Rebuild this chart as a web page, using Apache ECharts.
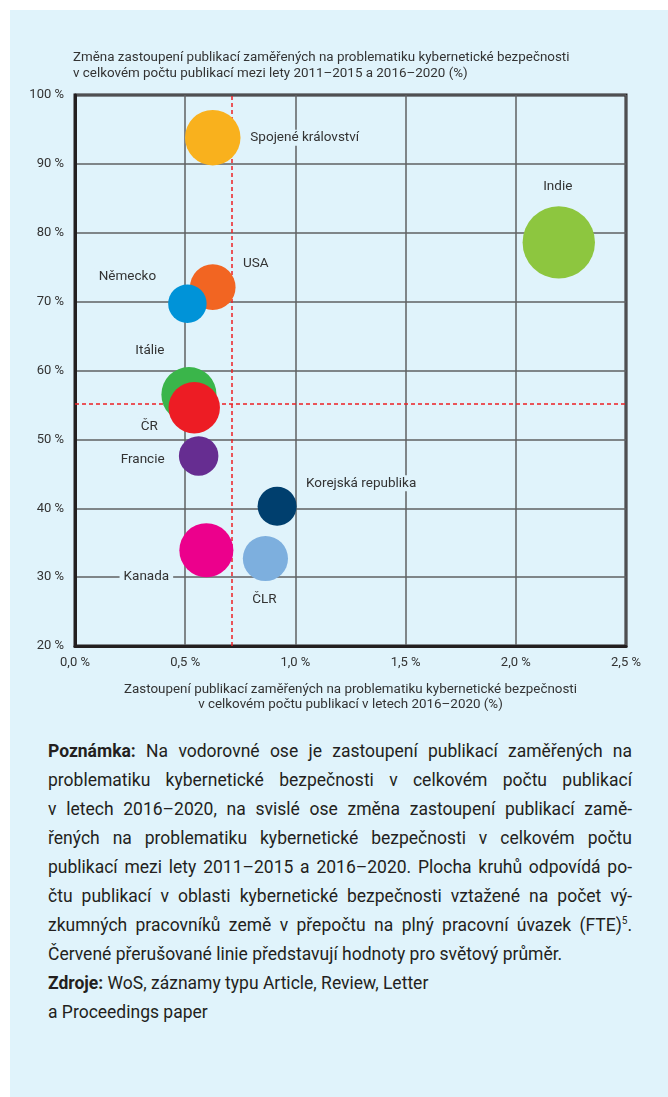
<!DOCTYPE html>
<html>
<head>
<meta charset="utf-8">
<script src="https://cdn.jsdelivr.net/npm/echarts@6/dist/echarts.min.js"></script>
<style>
  html, body { margin: 0; padding: 0; background: #fff; }
  #panel { position: absolute; left: 10px; top: 10px; width: 658px; height: 1087px; background: #e0f3fb; }
  #main { position: absolute; left: 0; top: 0; width: 668px; height: 720px; }
  #note { position: absolute; left: 48px; top: 737px; width: 584px; font-family: Roboto, sans-serif;
          font-size: 17.5px; line-height: 29px; color: #231f20; }
  #note .j { text-align: justify; text-align-last: justify; }
  #note sup { font-size: 10px; line-height: 0; }
</style>
</head>
<body>
<div id="panel"></div>
<div id="main"></div>
<div id="note">
  <div class="j"><b>Poznámka:</b> Na vodorovné ose je zastoupení publikací zaměřených na</div>
  <div class="j">problematiku kybernetické bezpečnosti v celkovém počtu publikací</div>
  <div class="j">v letech 2016–2020, na svislé ose změna zastoupení publikací zamě-</div>
  <div class="j">řených na problematiku kybernetické bezpečnosti v celkovém počtu</div>
  <div class="j">publikací mezi lety 2011–2015 a 2016–2020. Plocha kruhů odpovídá po-</div>
  <div class="j">čtu publikací v oblasti kybernetické bezpečnosti vztažené na počet vý-</div>
  <div class="j">zkumných pracovníků země v přepočtu na plný pracovní úvazek (FTE)<sup>5</sup>.</div>
  <div>Červené přerušované linie představují hodnoty pro světový průměr.</div>
  <div><b>Zdroje:</b> WoS, záznamy typu Article, Review, Letter</div>
  <div>a Proceedings paper</div>
</div>
<script>
// data
var countries = ['Spojené království', 'USA', 'Německo', 'Indie', 'Itálie', 'ČR', 'Francie', 'Korejská republika', 'Kanada', 'ČLR'];
var shareValues = [0.625, 0.625, 0.51, 2.195, 0.517, 0.541, 0.561, 0.917, 0.596, 0.864];   // x, %
var changeValues = [93.8, 72.1, 69.7, 78.6, 56.5, 54.6, 47.6, 40.3, 33.9, 32.7];         // y, %
var perFteValues = [77, 52, 37, 131, 76, 66, 39, 38, 73, 51];                             // plocha kruhu
var worldShare = 0.715;
var worldChange = 55.1;

// barvy a posuny popisků
var colors = ['#f9b11d', '#f26522', '#0093d8', '#8dc63f', '#3ab54a', '#ed1c24', '#662d91', '#003f6e', '#ec008c', '#7dafde'];
var labelOffsets = [[92, 0], [43, -24], [-60, -27], [-1, -56], [-39, -44], [-45, 19], [-56, 4], [84, -23], [-60, 26], [-1, 41]];

var fontFamily = 'Roboto, sans-serif';
var textColor = '#333';
var bg = '#e0f3fb';

var points = countries.map(function (name, i) {
  return {
    name: name,
    value: [shareValues[i], changeValues[i], perFteValues[i]],
    itemStyle: { color: colors[i], opacity: 1 },
    label: {
      show: true,
      position: 'inside',
      offset: labelOffsets[i],
      formatter: '{b}',
      color: textColor,
      fontSize: 13.5,
      fontFamily: fontFamily,
      backgroundColor: bg,
      padding: [1, 4]
    }
  };
});

var myChart = echarts.init(document.getElementById('main'));
var option = {
  backgroundColor: 'transparent',
  animation: false,
  title: {
    text: 'Změna zastoupení publikací zaměřených na problematiku kybernetické bezpečnosti\nv celkovém počtu publikací mezi lety 2011–2015 a 2016–2020 (%)',
    left: 73,
    top: 50,
    padding: 0,
    textStyle: { fontSize: 13.4, fontWeight: 'normal', color: textColor, lineHeight: 16, fontFamily: fontFamily }
  },
  grid: {
    left: 75, right: 42, top: 95, bottom: 74,
    show: true,
    borderColor: '#231f20',
    borderWidth: 3,
    backgroundColor: 'transparent'
  },
  xAxis: {
    type: 'value',
    min: 0, max: 2.5, interval: 0.5,
    name: 'Zastoupení publikací zaměřených na problematiku kybernetické bezpečnosti\nv celkovém počtu publikací v letech 2016–2020 (%)',
    nameLocation: 'middle',
    nameGap: 36,
    nameTextStyle: { fontSize: 13.4, color: textColor, lineHeight: 15, fontFamily: fontFamily },
    axisLine: { show: true, lineStyle: { color: '#231f20', width: 3 } },
    axisTick: { show: false },
    axisLabel: {
      margin: 10, fontSize: 13, color: textColor, fontFamily: fontFamily,
      formatter: function (v) { return v.toFixed(1).replace('.', ',') + ' %'; }
    },
    splitLine: { show: true, lineStyle: { color: '#5f6062', width: 1.5 } }
  },
  yAxis: {
    type: 'value',
    min: 20, max: 100, interval: 10,
    axisLine: { show: true, lineStyle: { color: '#231f20', width: 3 } },
    axisTick: { show: false },
    axisLabel: {
      margin: 11, fontSize: 13, color: textColor, fontFamily: fontFamily,
      formatter: function (v) { return v + ' %'; }
    },
    splitLine: { show: true, lineStyle: { color: '#5f6062', width: 1.5 } }
  },
  series: [{
    type: 'scatter',
    data: points,
    symbol: 'circle',
    symbolSize: function (d) { return 2 * Math.sqrt(d[2] * 10); },
    markLine: {
      silent: true,
      symbol: 'none',
      label: { show: false },
      lineStyle: { color: '#ed2024', type: [4, 3], width: 1.5 },
      z: 1,
      data: [{ xAxis: worldShare }, { yAxis: worldChange }]
    }
  }]
};
myChart.setOption(option);
</script>
</body>
</html>
